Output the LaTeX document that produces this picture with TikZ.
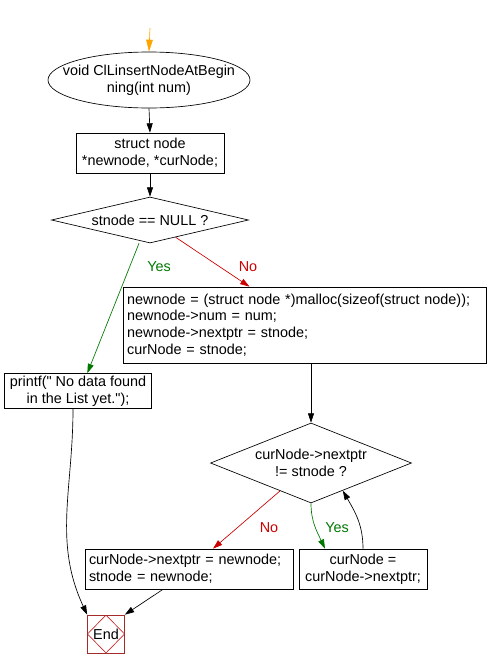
\documentclass[tikz,border=0pt]{standalone}
\usepackage{fontspec}
\setmainfont{Liberation Sans}[Ligatures=TeXOff]
\usepackage{tikz}
\usetikzlibrary{shapes,arrows.meta,calc}
\definecolor{yescol}{RGB}{0,120,0}
\definecolor{nocol}{RGB}{204,0,0}
\definecolor{startcol}{RGB}{255,165,0}
\definecolor{endcol}{RGB}{165,42,42}
\definecolor{enddia}{RGB}{200,40,40}

\begin{document}
\begin{tikzpicture}[x=0.75pt, y=-0.75pt,
    every node/.style={font=\fontsize{10.8}{12.6}\selectfont, inner sep=0pt},
    every path/.style={line width=0.5pt},
    >={Triangle[length=7pt, width=4.5pt]},
    box/.style={draw, rectangle, align=center},
    lbox/.style={draw, rectangle, align=left, inner sep=3pt},
    decide/.style={draw, diamond, aspect=2.5, inner sep=-4pt, align=center},
    yes/.style={draw=yescol, ->, >={Triangle[length=7pt, width=4.5pt, fill=yescol]}},
    no/.style={draw=nocol, ->, >={Triangle[length=7pt, width=4.5pt, fill=nocol]}}]
    \useasboundingbox (0,0) rectangle (488,668);

    % Start
    \coordinate (in) at (150,28);
    \node [draw, ellipse, inner xsep=-11pt, minimum width=151.5pt, minimum height=42pt, align=center] (start) at (149,80)
        {void ClLinsertNodeAtBegin\\ning(int num)};
    \draw [startcol, ->, >={Triangle[length=9pt, width=5pt, fill=startcol]}] (in) -- (start.north);

    % Declarations
    \node [box, minimum width=111pt, minimum height=30pt] (decl) at (150,153)
        {struct node\\*newnode, *curNode;};
    \draw [->] (start.south) -- (decl.north);

    % First test
    \node [decide, minimum width=147.75pt, minimum height=34.5pt] (isnull) at (150,220) {stnode == NULL ?};
    \draw [->] (decl.south) -- (isnull.north);

    % Yes branch
    \node [box, minimum width=110.25pt, minimum height=26.25pt] (nodata) at (78,391)
        {printf(" No data found\\in the List yet.");};
    \draw [yes] ([xshift=-8.25pt]isnull.south) -- ([xshift=7pt]nodata.north);
    \node [text=yescol] (yes1) at (159,267) {Yes};

    % No branch
    \node [lbox, text width=266pt, minimum height=57pt] (alloc) at (304.5,325)
        {newnode = (struct node *)malloc(sizeof(struct node));\\
         newnode->num = num;\\
         newnode->nextptr = stnode;\\
         curNode = stnode;};
    \draw [no] (isnull.-34) -- ([xshift=95pt]alloc.north west);
    \node [text=nocol] (no1) at (248,267) {No};

    % Loop
    \node [decide, minimum width=150.75pt, minimum height=60pt] (islast) at (311,463)
        {curNode->nextptr\\!= stnode ?};
    \draw [->] (alloc.south -| islast.north) -- (islast.north);

    \node [lbox, text width=150pt, minimum height=30pt] (link) at (189,569)
        {curNode->nextptr = newnode;\\stnode = newnode;};
    \node [box, minimum width=96pt, minimum height=30pt] (step) at (363,569)
        {curNode =\\curNode->nextptr;};
    \draw [no] (islast.222) -- ([xshift=18pt]link.north);
    \node [text=nocol] (no2) at (269,528) {No};
    \draw [yes] (islast.south) to[out=-90, in=115] ([xshift=-28.5pt]step.north);
    \node [text=yescol] (yes2) at (337,528) {Yes};
    \draw [->] (step.north) to[out=90, in=-60] (islast.-41);

    % End
    \node [draw=endcol, minimum width=27.75pt, minimum height=28.5pt,
        path picture={\draw [enddia] (path picture bounding box.north) -- (path picture bounding box.east)
            -- (path picture bounding box.south) -- (path picture bounding box.west) -- cycle;}]
        (end) at (106,634) {End};
    \draw [->] ([xshift=-3.75pt]nodata.south) to[out=-90, in=115] (end.north west);
    \draw [->] ([xshift=-19.5pt]link.south) -- (end.north east);
\end{tikzpicture}
\end{document}
